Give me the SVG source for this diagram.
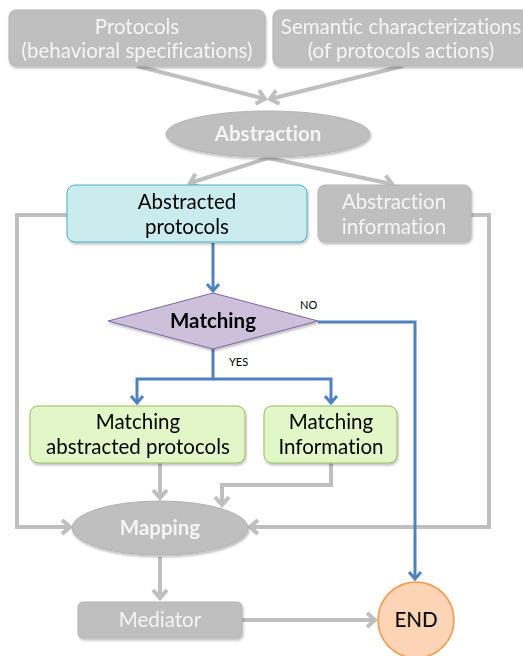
<svg xmlns="http://www.w3.org/2000/svg" width="523" height="656" viewBox="0 0 523 656">
<style>
text{font-variant-ligatures:none}
.gbox{fill:#bfbfbf;stroke:#b3b3b3;stroke-width:1}
.wt{fill:#f5f5f5;font-family:Lato,"Open Sans",sans-serif;font-size:20.5px;text-anchor:middle}
.bt{fill:#000;font-family:Lato,"Open Sans",sans-serif;font-size:20.5px;text-anchor:middle}
.bold{font-weight:bold}
.gl{fill:none;stroke:#bfbfbf;stroke-width:4}
.bl{fill:none;stroke:#4f81bd;stroke-width:3}
.sm{fill:#000;font-family:Lato,"Open Sans",sans-serif;font-size:11px}
</style>
<defs>
<filter id="sh" x="-10%" y="-10%" width="130%" height="140%">
<feDropShadow dx="1" dy="2" stdDeviation="1.2" flood-color="#000" flood-opacity="0.25"/>
</filter>
<marker id="ga" markerUnits="userSpaceOnUse" markerWidth="20" markerHeight="20" refX="10" refY="10" orient="auto" overflow="visible">
<path d="M2,3 L10,10 L2,17" fill="none" stroke="#bfbfbf" stroke-width="4"/>
</marker>
<marker id="ba" markerUnits="userSpaceOnUse" markerWidth="20" markerHeight="20" refX="10" refY="10" orient="auto" overflow="visible">
<path d="M3,4 L10,10 L3,16" fill="none" stroke="#4f81bd" stroke-width="3"/>
</marker>
</defs>

<g id="connectors">
<path class="gl" d="M137,66 L265,99" marker-end="url(#ga)"/>
<path class="gl" d="M403,66 L270,99" marker-end="url(#ga)"/>
<path class="gl" d="M268,158 L190,183" marker-end="url(#ga)"/>
<path class="gl" d="M268,158 L392,184" marker-end="url(#ga)"/>
<path class="gl" d="M67,215 L17,215 L17,527 L70,527" marker-end="url(#ga)"/>
<path class="gl" d="M471,215 L489,215 L489,527 L250,527" marker-end="url(#ga)"/>
<path class="gl" d="M160,463 L160,498" marker-end="url(#ga)"/>
<path class="gl" d="M331,463 L331,485 L222,485 L222,505" marker-end="url(#ga)"/>
<path class="gl" d="M160,557 L160,598" marker-end="url(#ga)"/>
<path class="gl" d="M242,620 L375,620" marker-end="url(#ga)"/>
<path class="bl" d="M213,243 L213,291" marker-end="url(#ba)"/>
<path class="bl" d="M213,349 L213,379 L137,379 L137,403" marker-end="url(#ba)"/>
<path class="bl" d="M213,379 L331,379 L331,403" marker-end="url(#ba)"/>
<path class="bl" d="M318,322 L415,322 L415,579" marker-end="url(#ba)"/>
<text class="sm" x="300" y="309">NO</text>
<text class="sm" x="229" y="366">YES</text>
</g>

<g id="protocols" filter="url(#sh)">
<rect class="gbox" x="9" y="10" width="256" height="56" rx="7"/>
<text class="wt" x="137" y="34" font-size="19.5">Protocols</text>
<text class="wt" x="137" y="58" font-size="19.5">(behavioral specifications)</text>
</g>
<g id="semantic" filter="url(#sh)">
<rect class="gbox" x="273" y="10" width="260" height="56" rx="7"/>
<text class="wt" x="401" y="34" font-size="19.5">Semantic characterizations</text>
<text class="wt" x="401" y="58" font-size="19.5">(of protocols actions)</text>
</g>
<g id="abstraction" filter="url(#sh)">
<ellipse cx="268" cy="134" rx="102" ry="23" fill="#bfbfbf" stroke="#b3b3b3"/>
<text class="wt bold" x="268" y="141" font-size="18.5">Abstraction</text>
</g>
<g id="abstracted-protocols" filter="url(#sh)">
<rect x="67" y="185" width="240" height="57" rx="8" fill="#cbecee" stroke="#4bacc6" stroke-width="1"/>
<text class="bt" x="187" y="209">Abstracted</text>
<text class="bt" x="187" y="234">protocols</text>
</g>
<g id="abstraction-information" filter="url(#sh)">
<rect class="gbox" x="318" y="185" width="153" height="57" rx="7"/>
<text class="wt" x="394" y="209">Abstraction</text>
<text class="wt" x="394" y="234">information</text>
</g>
<g id="matching" filter="url(#sh)">
<polygon points="213,293 318,321 213,349 108,321" fill="#ccc0da" stroke="#8064a2" stroke-width="1"/>
<text class="bt bold" x="213" y="328" font-size="18.5">Matching</text>
</g>
<g id="matching-abstracted-protocols" filter="url(#sh)">
<rect x="30" y="406" width="215" height="57" rx="8" fill="#e1f7c8" stroke="#9bbb59" stroke-width="1"/>
<text class="bt" x="138" y="429">Matching</text>
<text class="bt" x="138" y="454">abstracted protocols</text>
</g>
<g id="matching-information" filter="url(#sh)">
<rect x="264" y="406" width="133" height="57" rx="8" fill="#e1f7c8" stroke="#9bbb59" stroke-width="1"/>
<text class="bt" x="331" y="429">Matching</text>
<text class="bt" x="331" y="454">Information</text>
</g>
<g id="mapping" filter="url(#sh)">
<ellipse cx="160" cy="528" rx="88" ry="27" fill="#bfbfbf" stroke="#b3b3b3"/>
<text class="wt bold" x="160" y="535" font-size="19">Mapping</text>
</g>
<g id="mediator" filter="url(#sh)">
<rect class="gbox" x="78" y="602" width="164" height="36" rx="5"/>
<text class="wt" x="160" y="627">Mediator</text>
</g>
<g id="end">
<circle cx="416" cy="620" r="38" fill="#fbd5b5" stroke="#f79646" stroke-width="1.5"/>
<text class="bt" x="416" y="627" font-size="19">END</text>
</g>
</svg>
